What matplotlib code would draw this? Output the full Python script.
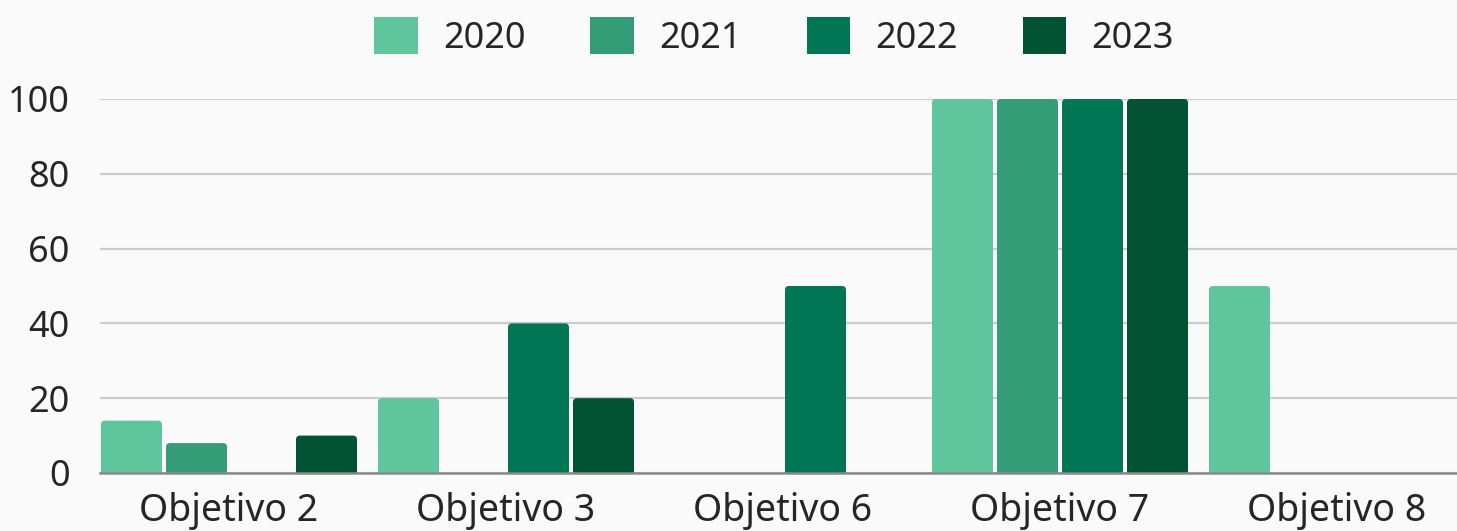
import numpy as np
import matplotlib.pyplot as plt
from matplotlib.patches import FancyBboxPatch, Patch
from matplotlib.transforms import Bbox, TransformedBbox

plt.rcParams['font.family'] = ['Noto Sans', 'Open Sans', 'DejaVu Sans']

categories = ['Objetivo 2', 'Objetivo 3', 'Objetivo 6', 'Objetivo 7', 'Objetivo 8']
years = ['2020', '2021', '2022', '2023']
values = {
    '2020': [14, 20, 0, 100, 50],
    '2021': [8, 0, 0, 100, 0],
    '2022': [0, 40, 50, 100, 0],
    '2023': [10, 20, 0, 100, 0],
}
colors = ['#5fc59c', '#349c77', '#007654', '#005233']

W, H = 1457, 531
fig = plt.figure(figsize=(W / 100, H / 100), dpi=100, facecolor='#fafafa')
ax = fig.add_axes([100 / W, (H - 473) / H, (W - 100) / W, (473 - 99) / H])
ax.set_facecolor('#fafafa')

group_px = 277.0
bar_w = 61 / group_px
step = 65 / group_px
x = np.arange(len(categories))
offsets = (np.arange(len(years)) - 1.5) * step

ax.set_xlim((100 - 229) / group_px, (W - 229) / group_px)
ax.set_ylim(0, 100)

# rounded top corners: pixel -> data conversions
px_y = 100 / (473 - 99)
px_x = 1 / group_px
aspect = px_y / px_x
r = 4 * px_x

for yr, c, off in zip(years, colors, offsets):
    for xi, v in zip(x, values[yr]):
        if v <= 0:
            continue
        x0 = xi + off - bar_w / 2
        patch = FancyBboxPatch((x0, -6 * px_y), bar_w, v + 6 * px_y,
                               boxstyle=f'round,pad=0,rounding_size={r}',
                               mutation_aspect=aspect, facecolor=c,
                               edgecolor='none', zorder=3)
        ax.add_patch(patch)

# clip bottom of bars at the baseline, let tops reach 100
clip = TransformedBbox(Bbox([[ax.get_xlim()[0], 0], [ax.get_xlim()[1], 110]]), ax.transData)
for p in ax.patches:
    p.set_clip_box(clip)
    p.set_clip_on(True)

ax.set_yticks([0, 20, 40, 60, 80, 100])
ax.set_xticks(x)
ax.set_xticklabels(categories)
ax.grid(axis='y', color='#cccccc', linewidth=1.6, zorder=0)
ax.set_axisbelow(True)
for s in ['top', 'right', 'left']:
    ax.spines[s].set_visible(False)
ax.spines['bottom'].set_color('#8a8a8a')
ax.spines['bottom'].set_linewidth(1.8)
ax.spines['bottom'].set_zorder(4)
ax.tick_params(axis='both', length=0, labelsize=26, colors='#262626')
ax.tick_params(axis='x', pad=14, labelsize=27)
ax.tick_params(axis='y', pad=22)

handles = [Patch(facecolor=c, edgecolor='none') for c in colors]
fig.legend(handles, years, loc='center', bbox_to_anchor=(774 / W, 1 - 37 / H),
           ncol=4, frameon=False, fontsize=26, handlelength=1.2, handleheight=1.2,
           handletextpad=0.7, columnspacing=1.8, labelcolor='#262626')

fig.savefig('out.png', dpi=100, facecolor=fig.get_facecolor())
